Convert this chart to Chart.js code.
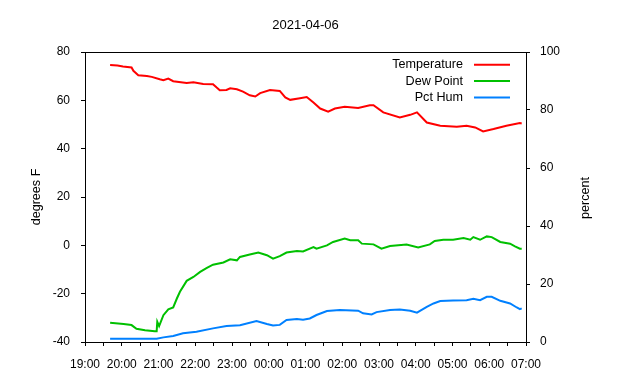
<!DOCTYPE html>
<html>
<head>
<meta charset="utf-8">
<script src="https://cdn.jsdelivr.net/npm/chart.js@4"></script>
<style>
html,body{margin:0;padding:0;background:#fff;}
#wrap{width:640px;height:380px;}
</style>
</head>
<body>
<div id="wrap"><canvas id="c" width="640" height="380"></canvas></div>
<script>
// ---- data ----
const chartTitle = "2021-04-06";
const leftAxisTitle = "degrees F";
const rightAxisTitle = "percent";
const seriesNames = ["Temperature", "Dew Point", "Pct Hum"];
const seriesColors = ["#ff0000", "#00c000", "#0080ff"];
const xTickLabels = ["19:00","20:00","21:00","22:00","23:00","00:00","01:00","02:00","03:00","04:00","05:00","06:00","07:00"];

const tempTimes = ["19:41","19:53","20:02","20:16","20:19","20:27","20:41","20:49","21:02","21:08","21:16","21:24","21:46","21:57","22:13","22:29","22:35","22:40","22:51","22:57","23:08","23:18","23:29","23:38","23:46","00:02","00:18","00:27","00:35","00:51","01:02","01:13","01:24","01:37","01:48","02:04","02:26","02:45","02:51","03:07","03:34","03:51","04:02","04:18","04:40","05:07","05:23","05:37","05:50","06:07","06:28","06:50","06:53"];
const tempValues = [74.6,74.4,74.0,73.6,72.2,70.4,70.1,69.7,68.7,68.3,69.0,67.9,67.2,67.5,66.8,66.7,65.3,64.2,64.3,65.0,64.6,63.6,62.1,61.6,63.0,64.3,63.9,61.2,60.2,60.9,61.4,59.1,56.6,55.3,56.6,57.3,56.8,58.0,58.0,55.0,52.9,54.0,55.0,50.8,49.5,49.1,49.5,48.8,47.1,48.1,49.5,50.6,50.4];

const dewTimes = ["19:41","20:03","20:16","20:24","20:38","20:54","20:57","20:58","21:01","21:08","21:16","21:24","21:30","21:35","21:46","21:57","22:08","22:19","22:29","22:46","22:57","23:08","23:13","23:29","23:43","23:57","00:07","00:18","00:29","00:46","00:56","01:13","01:18","01:35","01:45","02:04","02:13","02:26","02:32","02:51","03:04","03:18","03:45","04:04","04:23","04:31","04:45","05:01","05:18","05:29","05:34","05:45","05:56","06:04","06:18","06:34","06:42","06:50","06:53"];
const dewValues = [-32.0,-32.6,-33.0,-34.5,-35.1,-35.5,-35.5,-31.6,-33.4,-28.9,-26.5,-25.7,-22.0,-19.2,-14.7,-13.1,-11.0,-9.3,-8.0,-7.1,-5.8,-6.2,-4.8,-3.8,-3.0,-4.1,-5.5,-4.5,-3.0,-2.3,-2.5,-0.7,-1.4,0.0,1.4,2.8,2.1,2.1,0.7,0.4,-1.4,-0.3,0.3,-0.9,0.4,1.8,2.3,2.3,3.0,2.3,3.4,2.3,3.7,3.4,1.4,0.7,-0.4,-1.4,-1.4];

const humTimes = ["19:41","20:57","21:08","21:24","21:40","22:02","22:29","22:51","23:13","23:40","23:57","00:07","00:18","00:29","00:46","00:56","01:07","01:18","01:35","01:56","02:26","02:34","02:48","02:56","03:18","03:34","03:51","04:02","04:18","04:29","04:40","05:01","05:23","05:34","05:45","05:56","06:04","06:18","06:34","06:45","06:50","06:53"];
const humValues = [1.1,1.1,1.6,2.1,3.0,3.5,4.7,5.5,5.8,7.2,6.2,5.7,5.9,7.6,7.9,7.7,8.1,9.3,10.7,11.0,10.8,9.9,9.5,10.3,11.0,11.2,10.8,10.1,12.1,13.3,14.1,14.3,14.4,14.9,14.4,15.6,15.6,14.2,13.3,11.9,11.3,11.6];

// ---- helpers ----
function toMin(t){ const [h,m]=t.split(":").map(Number); let v=h*60+m-19*60; if(v<0) v+=1440; return v; }
function pts(times, vals){ return times.map((t,i)=>({x:toMin(t), y:vals[i]})); }

const FONT = '"Liberation Sans", Arial, Helvetica, sans-serif';

const boxPlugin = {
  id:'box',
  afterDraw(chart){
    const a = chart.chartArea, ctx = chart.ctx;
    ctx.save();
    ctx.strokeStyle = '#000'; ctx.lineWidth = 1;
    ctx.strokeRect(Math.round(a.left)+0.5, Math.round(a.top)+0.5, Math.round(a.right-a.left), Math.round(a.bottom-a.top));
    // right axis title, reading bottom-to-top like the left one
    ctx.font = '12.6px ' + FONT;
    ctx.fillStyle = '#000';
    ctx.textAlign = 'center'; ctx.textBaseline = 'middle';
    ctx.translate(a.right + 60, (a.top + a.bottom)/2 + 1);
    ctx.rotate(-Math.PI/2);
    ctx.fillText(rightAxisTitle, 0, 0);
    ctx.restore();
  }
};

const legendPlugin = {
  id:'gpLegend',
  afterDatasetsDraw(chart){
    const a = chart.chartArea, ctx = chart.ctx;
    ctx.save();
    ctx.font = '12.6px ' + FONT;
    ctx.textAlign = 'right';
    ctx.textBaseline = 'middle';
    chart.data.datasets.forEach((ds,i)=>{
      const y = a.top + 12.7 + i*16.4;
      ctx.fillStyle = '#000';
      ctx.fillText(ds.label, a.right - 63, y);
      ctx.strokeStyle = ds.borderColor; ctx.lineWidth = 2;
      ctx.beginPath(); ctx.moveTo(a.right - 52, y); ctx.lineTo(a.right - 16, y); ctx.stroke();
    });
    ctx.restore();
  }
};

const commonGrid = {drawOnChartArea:false, drawTicks:true, tickLength:4, color:'#000', lineWidth:1};

new Chart(document.getElementById('c'), {
  type:'line',
  data:{
    datasets:[
      {label:seriesNames[0], data:pts(tempTimes,tempValues), borderColor:seriesColors[0], backgroundColor:seriesColors[0], borderWidth:2, pointRadius:0, yAxisID:'y', tension:0},
      {label:seriesNames[1], data:pts(dewTimes,dewValues), borderColor:seriesColors[1], backgroundColor:seriesColors[1], borderWidth:2, pointRadius:0, yAxisID:'y', tension:0},
      {label:seriesNames[2], data:pts(humTimes,humValues), borderColor:seriesColors[2], backgroundColor:seriesColors[2], borderWidth:2, pointRadius:0, yAxisID:'y2', tension:0}
    ]
  },
  options:{
    responsive:false, animation:false, devicePixelRatio:1,
    layout:{padding:0},
    plugins:{
      legend:{display:false},
      tooltip:{enabled:false},
      title:{display:true, text:chartTitle, fullSize:false, color:'#000', font:{family:FONT, size:13, weight:'normal'}, padding:{top:18, bottom:18.4}}
    },
    scales:{
      x:{
        type:'linear', min:0, max:720,
        grid:commonGrid,
        border:{display:false},
        ticks:{stepSize:30, autoSkip:false, maxRotation:0, color:'#000', font:{family:FONT, size:12}, padding:11,
          callback:(v)=> (v%60===0 ? xTickLabels[v/60] : '')},
        afterFit:(s)=>{ s.height = 38; }
      },
      y:{
        position:'left', min:-40, max:80,
        grid:commonGrid,
        border:{display:false},
        ticks:{stepSize:20, color:'#000', font:{family:FONT, size:12}, padding:11},
        title:{display:true, text:leftAxisTitle, color:'#000', font:{family:FONT, size:12.6}, padding:{top:29, bottom:0}},
        afterFit:(s)=>{ s.width = 85; }
      },
      y2:{
        position:'right', min:0, max:100,
        grid:commonGrid,
        border:{display:false},
        ticks:{stepSize:20, color:'#000', font:{family:FONT, size:12}, padding:10},
        afterFit:(s)=>{ s.width = 114; }
      }
    }
  },
  plugins:[boxPlugin, legendPlugin]
});
</script>
</body>
</html>
